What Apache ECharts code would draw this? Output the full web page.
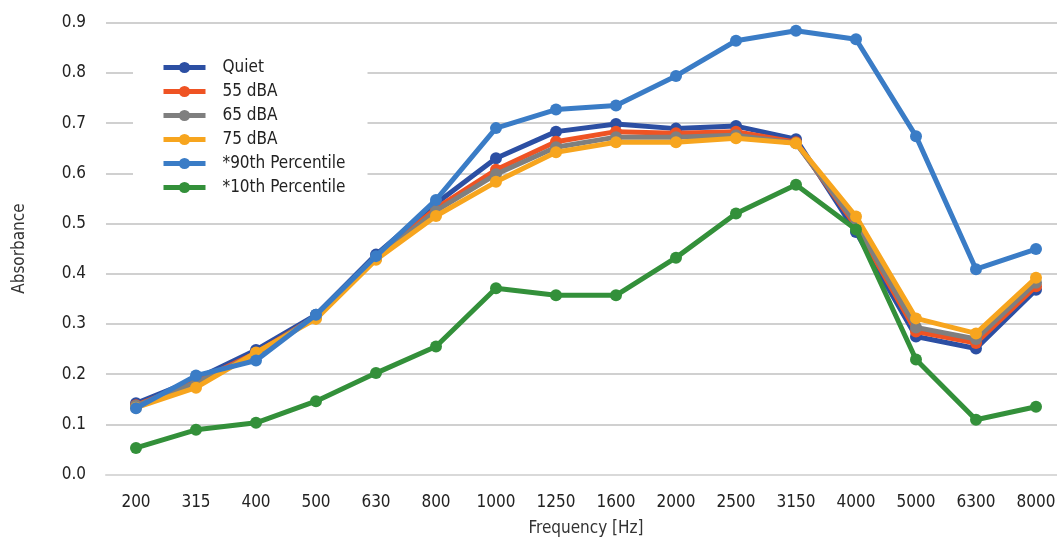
<!DOCTYPE html>
<html>
<head>
<meta charset="utf-8">
<script src="https://cdn.jsdelivr.net/npm/echarts@6/dist/echarts.min.js"></script>
<style>
html,body{margin:0;padding:0;background:#fff;}
#chart{width:1057px;height:542px;}
</style>
</head>
<body>
<div id="chart"></div>
<script>
const categories = ['200','315','400','500','630','800','1000','1250','1600','2000','2500','3150','4000','5000','6300','8000'];
const quiet   = [0.142,0.190,0.248,0.318,0.438,0.540,0.630,0.683,0.698,0.689,0.694,0.668,0.483,0.275,0.251,0.368];
const dba55   = [0.138,0.185,0.242,0.315,0.433,0.530,0.607,0.663,0.683,0.680,0.683,0.662,0.495,0.285,0.262,0.375];
const dba65   = [0.137,0.183,0.240,0.315,0.430,0.525,0.598,0.652,0.672,0.672,0.676,0.660,0.500,0.293,0.270,0.382];
const dba75   = [0.133,0.173,0.243,0.310,0.428,0.515,0.583,0.642,0.662,0.662,0.670,0.660,0.514,0.311,0.281,0.392];
const p90     = [0.132,0.197,0.227,0.318,0.435,0.547,0.690,0.727,0.735,0.794,0.864,0.884,0.867,0.674,0.409,0.449];
const p10     = [0.053,0.089,0.103,0.146,0.202,0.255,0.371,0.357,0.357,0.432,0.520,0.577,0.488,0.229,0.109,0.135];
const yTicks  = [0,0.1,0.2,0.3,0.4,0.5,0.6,0.7,0.8,0.9];

const names  = ['Quiet','55 dBA','65 dBA','75 dBA','*90th Percentile','*10th Percentile'];
const values = [quiet, dba55, dba65, dba75, p90, p10];
const colors = ['#2c4fa3','#ef5323','#7f7f7f','#f7a51e','#3a7cc6','#33903a'];
const FONT = "'DejaVu Sans Condensed', 'Liberation Sans Narrow', Roboto, sans-serif";

const chart = echarts.init(document.getElementById('chart'), null, {renderer:'canvas'});
chart.setOption({
  animation:false,
  backgroundColor:'#fff',
  textStyle:{fontFamily:FONT},
  grid:{left:106, top:22.7, width:960, height:451.8, containLabel:false, outerBoundsMode:'none'},
  legend:{
    orient:'vertical', left:133, top:57,
    itemWidth:42, itemHeight:14, itemGap:7,
    lineStyle:{width:5},
    backgroundColor:'#fff', padding:[2,22,6,28],
    textStyle:{fontFamily:FONT, fontSize:17, color:'#222', padding:[0,0,0,12]},
    data: names
  },
  xAxis:{
    type:'category', data:categories, boundaryGap:true,
    name:'Frequency [Hz]', nameLocation:'middle', nameGap:46,
    nameTextStyle:{fontFamily:FONT, fontSize:17, color:'#333'},
    axisLine:{show:true, lineStyle:{color:'#d9d9d9', width:2}},
    axisTick:{show:false},
    axisLabel:{fontFamily:FONT, fontSize:17, color:'#222', margin:20, interval:0},
    splitLine:{show:false}
  },
  yAxis:{
    type:'value', min:0, max:0.9, interval:0.1,
    name:'Absorbance', nameLocation:'middle', nameGap:78, nameRotate:90,
    nameTextStyle:{fontFamily:FONT, fontSize:17, color:'#333'},
    axisLine:{show:false}, axisTick:{show:false},
    axisLabel:{fontFamily:FONT, fontSize:17, color:'#222', margin:20,
      formatter:v=>v.toFixed(1)},
    splitLine:{show:true, lineStyle:{color:'#d0d0d0', width:2}}
  },
  series: names.map((n,i)=>({
    name:n, type:'line', data:values[i],
    symbol:'circle', symbolSize:12, showSymbol:true,
    lineStyle:{color:colors[i], width:5},
    itemStyle:{color:colors[i]},
    z:2+i
  }))
});
</script>
</body>
</html>
